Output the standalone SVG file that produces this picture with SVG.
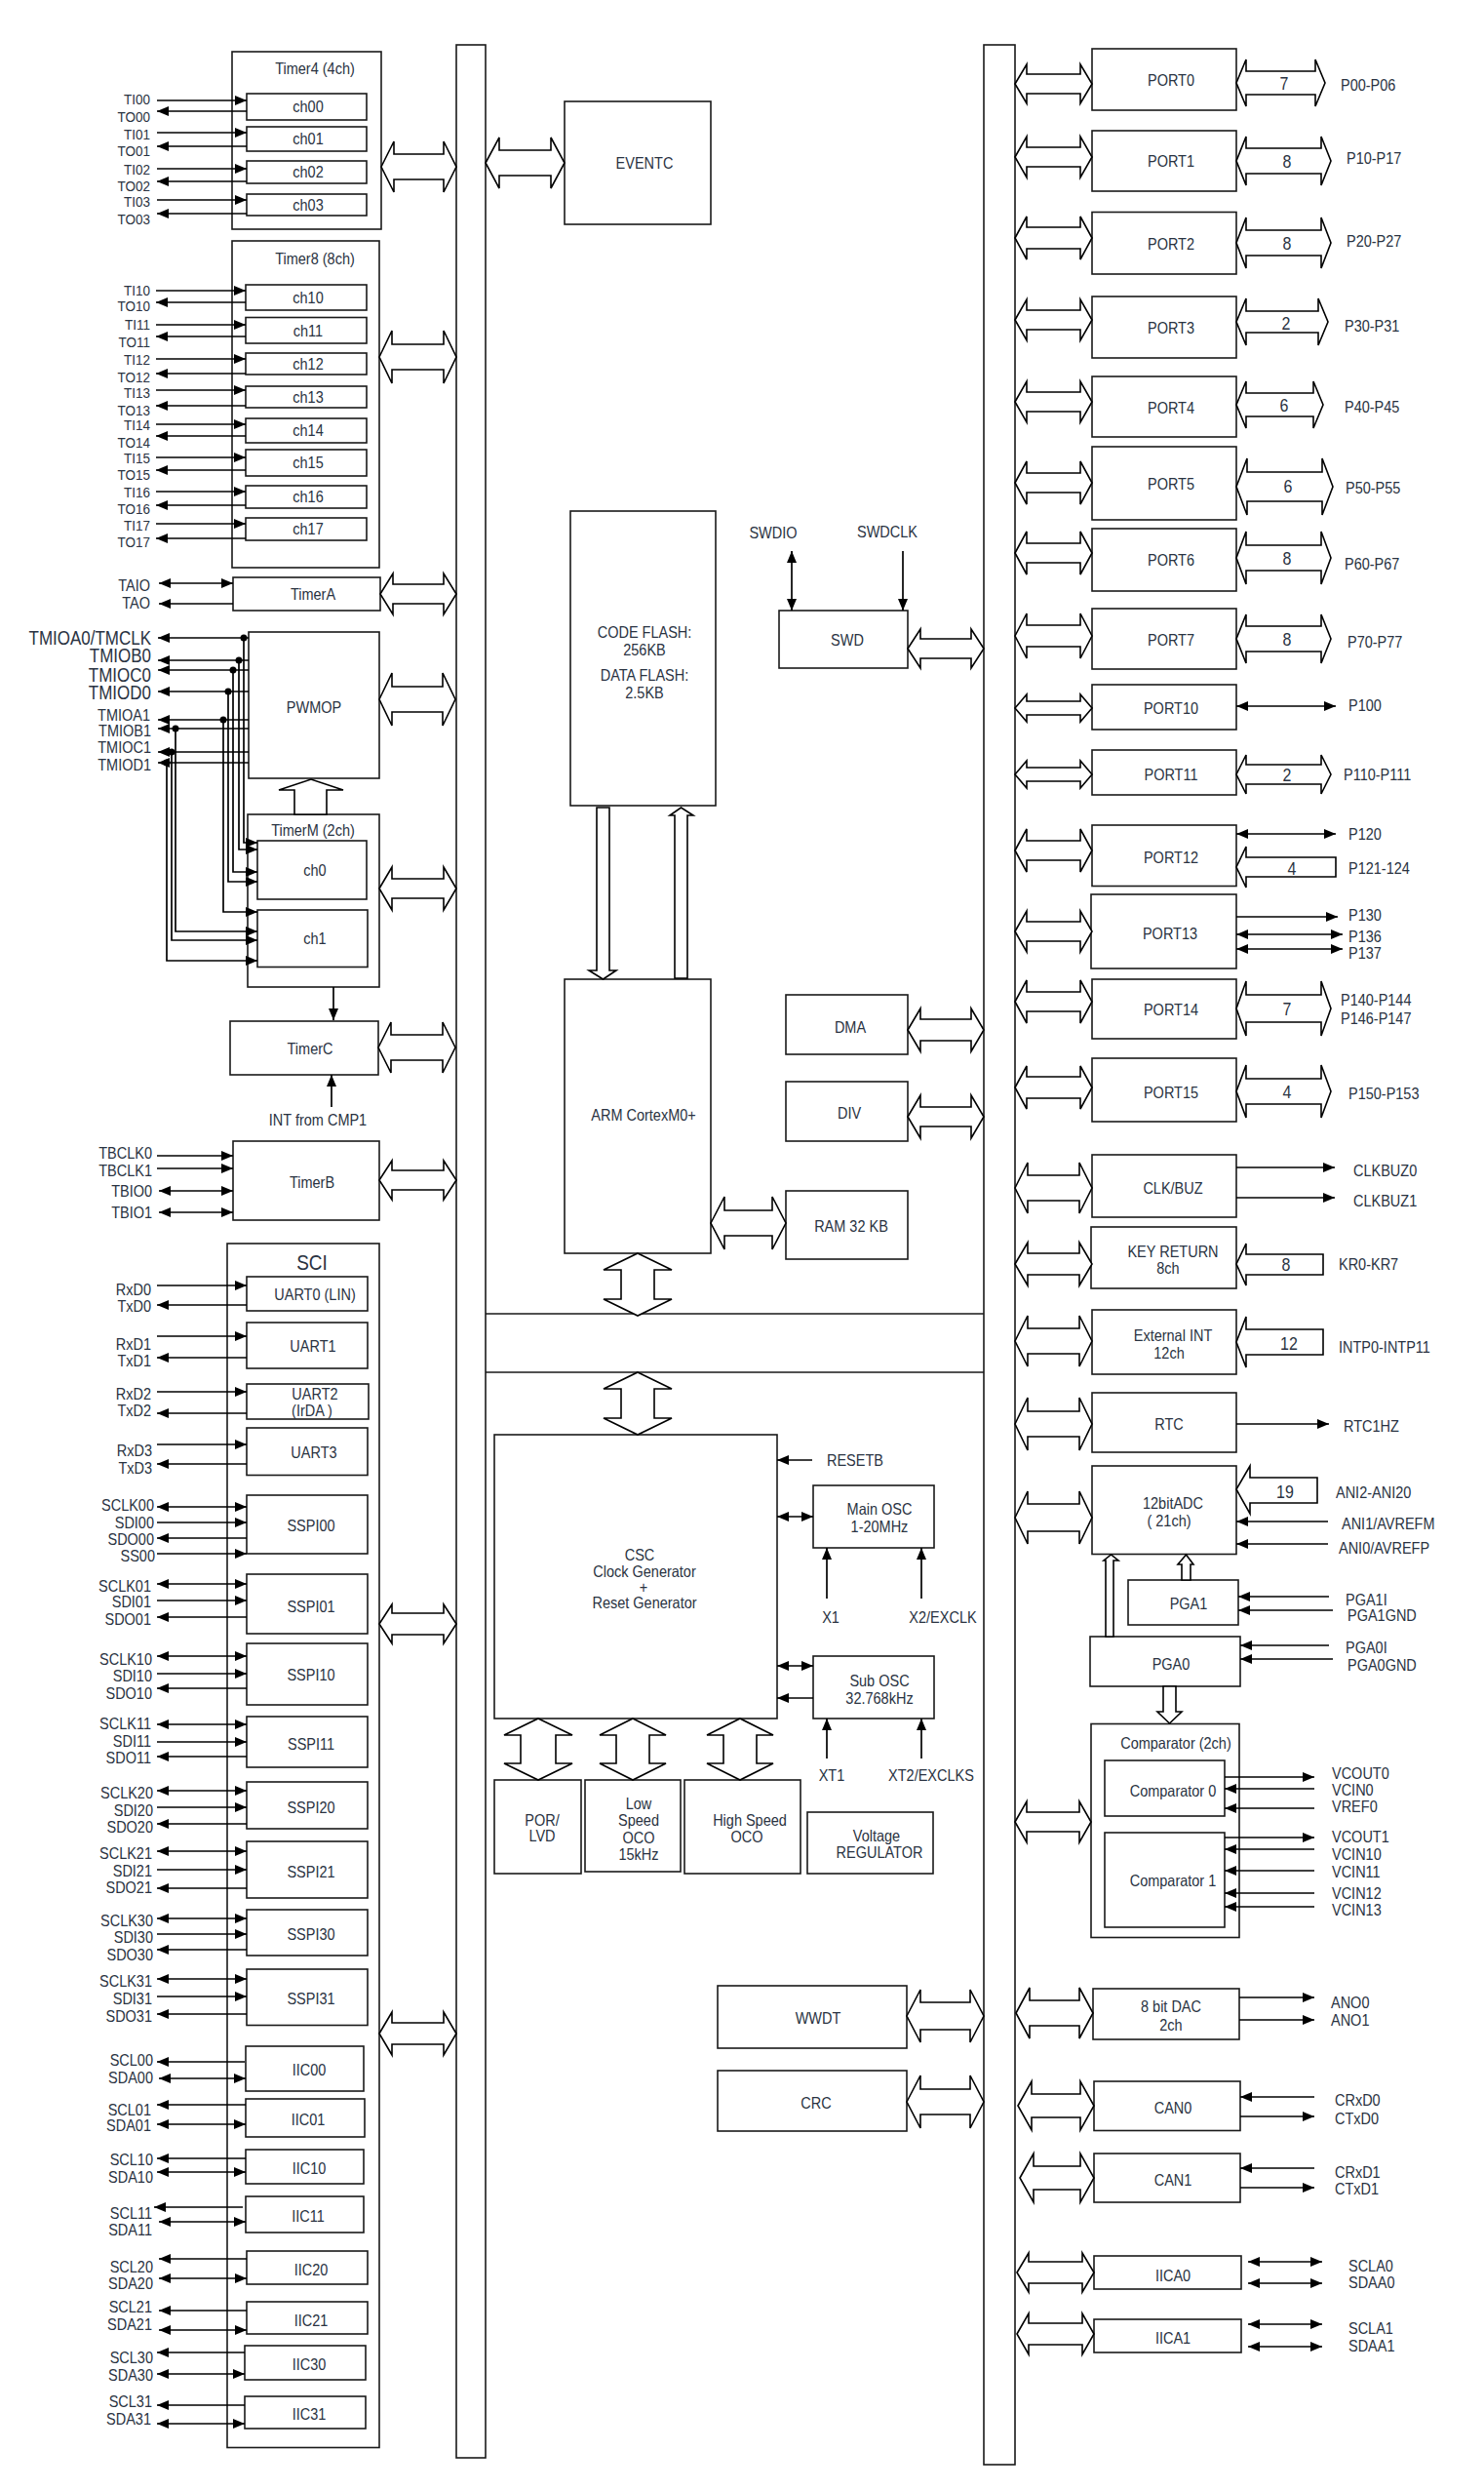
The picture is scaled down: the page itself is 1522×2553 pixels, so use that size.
<svg xmlns="http://www.w3.org/2000/svg" width="1522" height="2553" viewBox="0 0 1522 2553">
<defs>
<marker id="ah" viewBox="0 0 12 10" refX="12" refY="5" markerWidth="12" markerHeight="10" markerUnits="userSpaceOnUse" orient="auto-start-reverse"><path d="M0,0 L12,5 L0,10 z" fill="#000"/></marker>
<style>
rect{fill:#fff;stroke:#1a1a1a;stroke-width:1.6}
.ba{fill:#fff;stroke:#000;stroke-width:1.6;stroke-linejoin:miter}
.a{fill:none;stroke:#000;stroke-width:1.7;marker-end:url(#ah)}
.d{fill:none;stroke:#000;stroke-width:1.7;marker-end:url(#ah);marker-start:url(#ah)}
.ln{fill:none;stroke:#1a1a1a;stroke-width:1.6}
text{font-family:"Liberation Sans",Arial,sans-serif;font-size:14.5px;fill:#2a3342;dominant-baseline:central;transform-box:fill-box;transform-origin:center;transform:scaleY(1.15)}
.m{text-anchor:middle}
.e{text-anchor:end}
.s{font-size:13.5px}
.L{font-size:17px}
.n{font-size:16px}
</style>
</defs>
<rect fill="#fff" stroke="none" x="0" y="0" width="1522" height="2553" style="stroke:none"/>

<g id="buses">
<rect x="468" y="46" width="30" height="2474"/>
<rect x="1009" y="46" width="32" height="2481"/>
<path class="ln" d="M498,1347 H1009 M498,1407 H1009"/>
</g>

<g id="timer4"><rect x="238" y="53" width="153" height="182"/><text class="m" x="323" y="70">Timer4 (4ch)</text>
<rect x="253" y="96" width="123" height="27"/><text class="m" x="316" y="109.5">ch00</text>
<rect x="253" y="130" width="123" height="25"/><text class="m" x="316" y="142.5">ch01</text>
<rect x="253" y="165" width="123" height="23"/><text class="m" x="316" y="176.5">ch02</text>
<rect x="253" y="199" width="123" height="22"/><text class="m" x="316" y="210">ch03</text></g>

<g id="timer8"><rect x="238" y="247" width="151" height="335"/><text class="m" x="323" y="265">Timer8 (8ch)</text>
<rect x="252" y="292" width="124" height="26"/><text class="m" x="316" y="305">ch10</text>
<rect x="252" y="325.5" width="124" height="26.5"/><text class="m" x="316" y="339">ch11</text>
<rect x="252" y="362" width="124" height="22"/><text class="m" x="316" y="373">ch12</text>
<rect x="252" y="396" width="124" height="22"/><text class="m" x="316" y="407">ch13</text>
<rect x="252" y="429" width="124" height="25"/><text class="m" x="316" y="441.5">ch14</text>
<rect x="252" y="461" width="124" height="27"/><text class="m" x="316" y="474.5">ch15</text>
<rect x="252" y="498" width="124" height="23"/><text class="m" x="316" y="509.5">ch16</text>
<rect x="252" y="531" width="124" height="23"/><text class="m" x="316" y="542.5">ch17</text></g>

<g id="timerA"><rect x="239" y="592" width="151" height="34"/><text class="m" x="321" y="609">TimerA</text></g>
<g id="pwmop"><rect x="255" y="648" width="134" height="150"/><text class="m" x="322" y="725">PWMOP</text></g>
<g id="timerM"><rect x="254" y="835" width="135" height="177"/><text class="m" x="321" y="851">TimerM (2ch)</text>
<rect x="264" y="862" width="112" height="60"/><text class="m" x="323" y="892">ch0</text>
<rect x="264" y="933" width="113" height="58.5"/><text class="m" x="323" y="962">ch1</text></g>
<g id="timerC"><rect x="236" y="1047" width="152" height="55"/><text class="m" x="318" y="1075">TimerC</text></g>
<g id="timerB"><rect x="239" y="1170" width="150" height="81"/><text class="m" x="320" y="1212">TimerB</text></g>

<g id="sci"><rect x="233" y="1275" width="156" height="1234.5"/><text class="m" x="320" y="1294" style="font-size:19px">SCI</text>
<rect x="253" y="1309" width="124" height="35"/><text class="m" x="323" y="1327">UART0  (LIN)</text>
<rect x="253" y="1356" width="124" height="47"/><text class="m" x="321" y="1380">UART1</text>
<rect x="253" y="1419" width="125" height="36"/><text class="m" x="323" y="1429">UART2</text><text class="m" x="320" y="1446">(IrDA )</text>
<rect x="253" y="1464" width="124" height="48.5"/><text class="m" x="322" y="1489">UART3</text>
<rect x="253" y="1533" width="124" height="60"/><text class="m" x="319" y="1564">SSPI00</text>
<rect x="253" y="1614" width="124" height="61"/><text class="m" x="319" y="1647">SSPI01</text>
<rect x="253" y="1685" width="124" height="63"/><text class="m" x="319" y="1717">SSPI10</text>
<rect x="253" y="1760" width="124" height="52"/><text class="m" x="319" y="1788">SSPI11</text>
<rect x="253" y="1827" width="124" height="48"/><text class="m" x="319" y="1853">SSPI20</text>
<rect x="253" y="1888" width="124" height="58"/><text class="m" x="319" y="1919">SSPI21</text>
<rect x="253" y="1958" width="124" height="47"/><text class="m" x="319" y="1983">SSPI30</text>
<rect x="253" y="2019" width="124" height="57.5"/><text class="m" x="319" y="2049">SSPI31</text>
<rect x="252" y="2098" width="121" height="46"/><text class="m" x="317" y="2122">IIC00</text>
<rect x="252" y="2152" width="122" height="39"/><text class="m" x="316" y="2173">IIC01</text>
<rect x="252" y="2204" width="121" height="35"/><text class="m" x="317" y="2223">IIC10</text>
<rect x="252" y="2252" width="121" height="37"/><text class="m" x="316" y="2272">IIC11</text>
<rect x="253" y="2308" width="124" height="34"/><text class="m" x="319" y="2327">IIC20</text>
<rect x="253" y="2360" width="124" height="33"/><text class="m" x="319" y="2379">IIC21</text>
<rect x="251" y="2405" width="124" height="35"/><text class="m" x="317" y="2424">IIC30</text>
<rect x="251" y="2457" width="124" height="33"/><text class="m" x="317" y="2475">IIC31</text></g>

<g id="eventc"><rect x="579" y="104" width="150" height="126"/><text class="m" x="661" y="167">EVENTC</text></g>
<g id="flash"><rect x="585" y="524" width="149" height="302"/><text class="m" x="661" y="648">CODE FLASH:</text><text class="m" x="661" y="666">256KB</text><text class="m" x="661" y="692">DATA FLASH:</text><text class="m" x="661" y="710">2.5KB</text></g>
<g id="swd"><rect x="799" y="626" width="132" height="59"/><text class="m" x="869" y="656">SWD</text><text class="m" x="793" y="546">SWDIO</text><text class="m" x="910" y="545">SWDCLK</text></g>
<g id="cpu"><rect x="579" y="1004" width="150" height="281"/><text class="m" x="660" y="1143">ARM CortexM0+</text></g>
<g id="dma"><rect x="806" y="1020" width="125" height="61"/><text class="m" x="872" y="1053">DMA</text></g>
<g id="div"><rect x="806" y="1109" width="125" height="61"/><text class="m" x="871" y="1141">DIV</text></g>
<g id="ram"><rect x="806" y="1221" width="125" height="70"/><text class="m" x="873" y="1257">RAM  32 KB</text></g>
<g id="csc"><rect x="507" y="1471" width="290" height="291"/><text class="m" x="656" y="1594">CSC</text><text class="m" x="661" y="1611">Clock Generator</text><text class="m" x="660" y="1627">+</text><text class="m" x="661" y="1643">Reset Generator</text>
<text x="848" y="1497">RESETB</text></g>
<g id="mainosc"><rect x="834" y="1523" width="124" height="64"/><text class="m" x="902" y="1547">Main OSC</text><text class="m" x="902" y="1565">1-20MHz</text><text class="m" x="852" y="1658">X1</text><text class="m" x="967" y="1658">X2/EXCLK</text></g>
<g id="subosc"><rect x="834" y="1698" width="124" height="64"/><text class="m" x="902" y="1723">Sub OSC</text><text class="m" x="902" y="1741">32.768kHz</text><text class="m" x="853" y="1820">XT1</text><text class="m" x="955" y="1820">XT2/EXCLKS</text></g>
<g id="porlvd"><rect x="507" y="1825" width="89" height="96"/><text class="m" x="556" y="1866">POR/</text><text class="m" x="556" y="1882">LVD</text></g>
<g id="loco"><rect x="600" y="1825" width="98" height="94"/><text class="m" x="655" y="1849">Low</text><text class="m" x="655" y="1866">Speed</text><text class="m" x="655" y="1884">OCO</text><text class="m" x="655" y="1901">15kHz</text></g>
<g id="hoco"><rect x="702" y="1825" width="119" height="96"/><text class="m" x="769" y="1866">High Speed</text><text class="m" x="766" y="1883">OCO</text></g>
<g id="vreg"><rect x="828" y="1858" width="129" height="63"/><text class="m" x="899" y="1882">Voltage</text><text class="m" x="902" y="1899">REGULATOR</text></g>
<g id="wwdt"><rect x="736" y="2036" width="194" height="64"/><text class="m" x="839" y="2069">WWDT</text></g>
<g id="crc"><rect x="736" y="2123" width="194" height="62"/><text class="m" x="837" y="2156">CRC</text></g>

<g id="port0"><rect x="1120" y="50" width="148" height="63"/><text class="m" x="1201" y="82">PORT0</text></g>
<g id="port1"><rect x="1120" y="134" width="148" height="62"/><text class="m" x="1201" y="165">PORT1</text></g>
<g id="port2"><rect x="1120" y="217.5" width="148" height="63.5"/><text class="m" x="1201" y="250">PORT2</text></g>
<g id="port3"><rect x="1120" y="304" width="148" height="63"/><text class="m" x="1201" y="336">PORT3</text></g>
<g id="port4"><rect x="1120" y="386" width="148" height="62"/><text class="m" x="1201" y="418">PORT4</text></g>
<g id="port5"><rect x="1120" y="458" width="148" height="75"/><text class="m" x="1201" y="496">PORT5</text></g>
<g id="port6"><rect x="1120" y="542" width="148" height="64"/><text class="m" x="1201" y="574">PORT6</text></g>
<g id="port7"><rect x="1120" y="624" width="148" height="62"/><text class="m" x="1201" y="656">PORT7</text></g>
<g id="port10"><rect x="1120" y="702" width="148" height="46"/><text class="m" x="1201" y="726">PORT10</text></g>
<g id="port11"><rect x="1120" y="769" width="148" height="46"/><text class="m" x="1201" y="794">PORT11</text></g>
<g id="port12"><rect x="1120" y="846" width="148" height="62.5"/><text class="m" x="1201" y="879">PORT12</text></g>
<g id="port13"><rect x="1119" y="917" width="149" height="76"/><text class="m" x="1200" y="957">PORT13</text></g>
<g id="port14"><rect x="1120" y="1004" width="148" height="61"/><text class="m" x="1201" y="1035">PORT14</text></g>
<g id="port15"><rect x="1120" y="1085" width="148" height="65"/><text class="m" x="1201" y="1120">PORT15</text></g>
<g id="clkbuz"><rect x="1120" y="1184" width="148" height="64"/><text class="m" x="1203" y="1218">CLK/BUZ</text></g>
<g id="keyret"><rect x="1119" y="1258" width="149" height="63"/><text class="m" x="1203" y="1283">KEY RETURN</text><text class="m" x="1198" y="1300">8ch</text></g>
<g id="extint"><rect x="1120" y="1343" width="148" height="66"/><text class="m" x="1203" y="1369">External INT</text><text class="m" x="1199" y="1387">12ch</text></g>
<g id="rtc"><rect x="1120" y="1428" width="148" height="61"/><text class="m" x="1199" y="1460">RTC</text></g>
<g id="adc"><rect x="1120" y="1503" width="148" height="90.5"/><text class="m" x="1203" y="1541">12bitADC</text><text class="m" x="1199" y="1559">( 21ch)</text></g>
<g id="pga1"><rect x="1157" y="1620" width="113" height="46"/><text class="m" x="1219" y="1644">PGA1</text></g>
<g id="pga0"><rect x="1118" y="1678" width="154" height="51"/><text class="m" x="1201" y="1706">PGA0</text></g>
<g id="comparator"><rect x="1119" y="1767.5" width="152" height="219"/><text class="m" x="1206" y="1787">Comparator (2ch)</text>
<rect x="1133" y="1805" width="123" height="57"/><text class="m" x="1203" y="1836">Comparator 0</text>
<rect x="1133" y="1879" width="123" height="97"/><text class="m" x="1203" y="1928">Comparator 1</text></g>
<g id="dac"><rect x="1121" y="2039" width="150" height="52"/><text class="m" x="1201" y="2057">8 bit DAC</text><text class="m" x="1201" y="2076">2ch</text></g>
<g id="can0"><rect x="1122" y="2134" width="150" height="50.5"/><text class="m" x="1203" y="2161">CAN0</text></g>
<g id="can1"><rect x="1122" y="2208" width="150" height="50"/><text class="m" x="1203" y="2235">CAN1</text></g>
<g id="iica0"><rect x="1122" y="2313" width="151" height="34"/><text class="m" x="1203" y="2333">IICA0</text></g>
<g id="iica1"><rect x="1122" y="2378" width="151" height="34"/><text class="m" x="1203" y="2397">IICA1</text></g>

<g id="connectors">
<polygon class="ba" points="391,171 404,145 404,158 455,158 455,145 468,171 455,197 455,184 404,184 404,197"/>
<polygon class="ba" points="389,366 402,339 402,353 455,353 455,339 468,366 455,393 455,379 402,379 402,393"/>
<polygon class="ba" points="390,609 403,588 403,599 455,599 455,588 468,609 455,630 455,619 403,619 403,630"/>
<polygon class="ba" points="389,717 402,690 402,704 454,704 454,690 467,717 454,744 454,730 402,730 402,744"/>
<polygon class="ba" points="389,911 402,889 402,901 455,901 455,889 468,911 455,933 455,921 402,921 402,933"/>
<polygon class="ba" points="388,1074 401,1048 401,1061 454,1061 454,1048 467,1074 454,1100 454,1087 401,1087 401,1100"/>
<polygon class="ba" points="389,1210 402,1190 402,1200 455,1200 455,1190 468,1210 455,1230 455,1220 402,1220 402,1230"/>
<polygon class="ba" points="389,1665 402,1645 402,1654 455,1654 455,1645 468,1665 455,1685 455,1676 402,1676 402,1685"/>
<polygon class="ba" points="389,2085 402,2063 402,2074 455,2074 455,2063 468,2085 455,2107 455,2096 402,2096 402,2107"/>
<polygon class="ba" points="498,167 512,141 512,154 565,154 565,141 579,167 565,193 565,180 512,180 512,193"/>
<polygon class="ba" points="931,665 944,645 944,655 996,655 996,645 1009,665 996,685 996,675 944,675 944,685"/>
<polygon class="ba" points="931,1056 944,1034 944,1045 996,1045 996,1034 1009,1056 996,1078 996,1067 944,1067 944,1078"/>
<polygon class="ba" points="931,1145 944,1123 944,1135 996,1135 996,1123 1009,1145 996,1167 996,1155 944,1155 944,1167"/>
<polygon class="ba" points="729,1254 743,1227 743,1241 792,1241 792,1227 806,1254 792,1281 792,1267 743,1267 743,1281"/>
<polygon class="ba" points="930,2067 944,2040 944,2053 995,2053 995,2040 1009,2067 995,2094 995,2081 944,2081 944,2094"/>
<polygon class="ba" points="930,2155 944,2128 944,2142 995,2142 995,2128 1009,2155 995,2182 995,2168 944,2168 944,2182"/>
<polygon class="ba" points="654,1285 689,1302 671,1302 671,1332 689,1332 654,1349 619,1332 637,1332 637,1302 619,1302"/>
<polygon class="ba" points="654,1407 689,1424 671,1424 671,1454 689,1454 654,1471 619,1454 637,1454 637,1424 619,1424"/>
<polygon class="ba" points="552,1762 587,1779 570,1779 570,1808 587,1808 552,1825 517,1808 534,1808 534,1779 517,1779"/>
<polygon class="ba" points="649,1762 683,1779 666,1779 666,1808 683,1808 649,1825 615,1808 632,1808 632,1779 615,1779"/>
<polygon class="ba" points="759,1762 793,1779 776,1779 776,1808 793,1808 759,1825 725,1808 742,1808 742,1779 725,1779"/>
<polygon class="ba" points="612,828 625,828 625,995 632,995 618.5,1004 604,995 612,995"/>
<polygon class="ba" points="692,1003 705,1003 705,836 711,836 698.5,828 687,836 692,836"/>
<polygon class="ba" points="302,835 335,835 335,810 352,810 319,799 286,810 302,810"/>
<polygon class="ba" points="1041,86 1053,66 1053,76 1108,76 1108,66 1120,86 1108,106 1108,96 1053,96 1053,106"/>
<polygon class="ba" points="1041,161 1053,140 1053,151 1108,151 1108,140 1120,161 1108,182 1108,171 1053,171 1053,182"/>
<polygon class="ba" points="1041,244 1053,222 1053,233 1108,233 1108,222 1120,244 1108,266 1108,255 1053,255 1053,266"/>
<polygon class="ba" points="1041,328 1053,307 1053,318 1108,318 1108,307 1120,328 1108,349 1108,338 1053,338 1053,349"/>
<polygon class="ba" points="1041,412 1053,391 1053,402 1108,402 1108,391 1120,412 1108,433 1108,422 1053,422 1053,433"/>
<polygon class="ba" points="1041,495 1053,473 1053,485 1108,485 1108,473 1120,495 1108,517 1108,505 1053,505 1053,517"/>
<polygon class="ba" points="1041,567 1053,545 1053,557 1108,557 1108,545 1120,567 1108,589 1108,577 1053,577 1053,589"/>
<polygon class="ba" points="1041,652 1053,629 1053,641 1108,641 1108,629 1120,652 1108,675 1108,663 1053,663 1053,675"/>
<polygon class="ba" points="1041,726 1053,712 1053,719 1108,719 1108,712 1120,726 1108,740 1108,733 1053,733 1053,740"/>
<polygon class="ba" points="1041,794 1053,780 1053,787 1108,787 1108,780 1120,794 1108,808 1108,801 1053,801 1053,808"/>
<polygon class="ba" points="1041,872 1053,850 1053,862 1108,862 1108,850 1120,872 1108,894 1108,882 1053,882 1053,894"/>
<polygon class="ba" points="1041,955 1053,934 1053,945 1108,945 1108,934 1120,955 1108,976 1108,965 1053,965 1053,976"/>
<polygon class="ba" points="1041,1027 1053,1005 1053,1017 1108,1017 1108,1005 1120,1027 1108,1049 1108,1037 1053,1037 1053,1049"/>
<polygon class="ba" points="1041,1115 1053,1093 1053,1104 1108,1104 1108,1093 1120,1115 1108,1137 1108,1126 1053,1126 1053,1137"/>
<polygon class="ba" points="1041,1218 1054,1192 1054,1205 1107,1205 1107,1192 1120,1218 1107,1244 1107,1231 1054,1231 1054,1244"/>
<polygon class="ba" points="1041,1296 1054,1274 1054,1285 1107,1285 1107,1274 1120,1296 1107,1318 1107,1307 1054,1307 1054,1318"/>
<polygon class="ba" points="1041,1375 1054,1349 1054,1362 1107,1362 1107,1349 1120,1375 1107,1401 1107,1388 1054,1388 1054,1401"/>
<polygon class="ba" points="1041,1460 1054,1433 1054,1447 1107,1447 1107,1433 1120,1460 1107,1487 1107,1473 1054,1473 1054,1487"/>
<polygon class="ba" points="1041,1556 1054,1529 1054,1542 1107,1542 1107,1529 1120,1556 1107,1583 1107,1570 1054,1570 1054,1583"/>
<polygon class="ba" points="1041,1868 1053,1847 1053,1858 1107,1858 1107,1847 1119,1868 1107,1889 1107,1878 1053,1878 1053,1889"/>
<polygon class="ba" points="1042,2064 1056,2038 1056,2051 1107,2051 1107,2038 1121,2064 1107,2090 1107,2077 1056,2077 1056,2090"/>
<polygon class="ba" points="1044,2159 1058,2134 1058,2147 1108,2147 1108,2134 1122,2159 1108,2184 1108,2171 1058,2171 1058,2184"/>
<polygon class="ba" points="1046,2233 1060,2208 1060,2221 1108,2221 1108,2208 1122,2233 1108,2258 1108,2245 1060,2245 1060,2258"/>
<polygon class="ba" points="1043,2330 1055,2310 1055,2319 1110,2319 1110,2310 1122,2330 1110,2350 1110,2341 1055,2341 1055,2350"/>
<polygon class="ba" points="1043,2393 1055,2372 1055,2382 1110,2382 1110,2372 1122,2393 1110,2414 1110,2404 1055,2404 1055,2414"/>
<polygon class="ba" points="1268,85 1278,61 1278,73 1349,73 1349,61 1359,85 1349,109 1349,97 1278,97 1278,109"/>
<polygon class="ba" points="1268,165 1278,140 1278,152 1355,152 1355,140 1365,165 1355,190 1355,178 1278,178 1278,190"/>
<polygon class="ba" points="1268,249 1278,223 1278,236 1355,236 1355,223 1365,249 1355,275 1355,262 1278,262 1278,275"/>
<polygon class="ba" points="1268,330 1278,306 1278,319 1352,319 1352,306 1362,330 1352,354 1352,341 1278,341 1278,354"/>
<polygon class="ba" points="1268,415 1278,391 1278,403 1347,403 1347,391 1357,415 1347,439 1347,427 1278,427 1278,439"/>
<polygon class="ba" points="1268,499 1279,470 1279,484 1356,484 1356,470 1367,499 1356,528 1356,514 1279,514 1279,528"/>
<polygon class="ba" points="1268,572 1278,545 1278,559 1355,559 1355,545 1365,572 1355,599 1355,585 1278,585 1278,599"/>
<polygon class="ba" points="1268,655 1278,630 1278,642 1355,642 1355,630 1365,655 1355,680 1355,668 1278,668 1278,680"/>
<polygon class="ba" points="1268,794 1278,774 1278,784 1355,784 1355,774 1365,794 1355,814 1355,804 1278,804 1278,814"/>
<polygon class="ba" points="1268,1034 1278,1006 1278,1020 1355,1020 1355,1006 1365,1034 1355,1062 1355,1048 1278,1048 1278,1062"/>
<polygon class="ba" points="1268,1119 1278,1092 1278,1106 1355,1106 1355,1092 1365,1119 1355,1146 1355,1132 1278,1132 1278,1146"/>
<polygon class="ba" points="1268,889 1278,868 1278,879 1370,879 1370,899 1278,899 1278,910"/>
<polygon class="ba" points="1268,1296 1278,1275 1278,1286 1357,1286 1357,1307 1278,1307 1278,1318"/>
<polygon class="ba" points="1268,1376 1278,1350 1278,1363 1357,1363 1357,1389 1278,1389 1278,1402"/>
<polygon class="ba" points="1268,1527 1282,1503 1282,1515 1351,1515 1351,1541 1282,1541 1282,1552"/>
<polygon class="ba" points="1134,1678 1142,1678 1142,1600 1147,1600 1139.5,1594 1132,1600 1134,1600"/>
<polygon class="ba" points="1212,1620 1221,1620 1221,1604 1224,1604 1216.5,1594 1208,1604 1212,1604"/>
<polygon class="ba" points="1193,1729 1206,1729 1206,1755 1212,1755 1199.5,1767 1187,1755 1193,1755"/>

<path class="a" d="M161,103 H253"/><path class="a" d="M253,114 H161"/>
<path class="a" d="M161,136 H253"/><path class="a" d="M253,150 H161"/>
<path class="a" d="M161,173 H253"/><path class="a" d="M253,186 H161"/>
<path class="a" d="M161,205 H253"/><path class="a" d="M253,219 H161"/>
<path class="a" d="M160,298 H252"/><path class="a" d="M252,310 H160"/>
<path class="a" d="M160,333 H252"/><path class="a" d="M252,345 H160"/>
<path class="a" d="M160,368 H252"/><path class="a" d="M252,383 H160"/>
<path class="a" d="M160,400 H252"/><path class="a" d="M252,416 H160"/>
<path class="a" d="M160,435 H252"/><path class="a" d="M252,447 H160"/>
<path class="a" d="M160,469 H252"/><path class="a" d="M252,482 H160"/>
<path class="a" d="M160,504 H252"/><path class="a" d="M252,518 H160"/>
<path class="a" d="M160,537 H252"/><path class="a" d="M252,552 H160"/>
<path class="d" d="M163,598 H239"/><path class="a" d="M239,619 H163"/>
<path class="a" d="M255,654 H162"/><path class="a" d="M255,677 H162"/><path class="a" d="M255,687 H162"/><path class="a" d="M255,709 H162"/>
<path class="a" d="M255,738 H162"/><path class="a" d="M255,747 H162"/><path class="a" d="M255,771 H162"/><path class="a" d="M255,782 H162"/>
<path class="a" d="M250,654 V864 H264"/><path class="a" d="M245,677 V871 H264"/><path class="a" d="M239,687 V894 H264"/><path class="a" d="M234,709 V904 H264"/>
<path class="a" d="M229,738 V935 H264"/><path class="a" d="M180,747 V955 H264"/><path class="a" d="M176,771 V964 H264"/><path class="a" d="M171,782 V985 H264"/>
<g fill="#000"><circle cx="250" cy="654" r="3.5"/><circle cx="245" cy="677" r="3.5"/><circle cx="239" cy="687" r="3.5"/><circle cx="234" cy="709" r="3.5"/><circle cx="229" cy="738" r="3.5"/><circle cx="180" cy="747" r="3.5"/><circle cx="176" cy="771" r="3.5"/><circle cx="171" cy="782" r="3.5"/></g>
<path class="a" d="M342,1012 V1046"/>
<path class="a" d="M340,1135 V1102"/>
<path class="a" d="M161,1185 H239"/><path class="a" d="M161,1198 H239"/><path class="d" d="M163,1221 H239"/><path class="d" d="M163,1243 H239"/>
<path class="a" d="M161,1318 H253"/><path class="a" d="M253,1338 H161"/>
<path class="a" d="M161,1370 H253"/><path class="a" d="M253,1392 H161"/>
<path class="a" d="M161,1427 H253"/><path class="a" d="M253,1449 H161"/>
<path class="a" d="M161,1481 H253"/><path class="a" d="M253,1501 H161"/>
<path class="d" d="M161,1545 H253"/><path class="a" d="M161,1561 H253"/><path class="a" d="M253,1577 H161"/><path class="a" d="M161,1593 H253"/>
<path class="d" d="M161,1624 H253"/><path class="a" d="M161,1641 H253"/><path class="a" d="M253,1658 H161"/>
<path class="d" d="M161,1698 H253"/><path class="a" d="M161,1716 H253"/><path class="a" d="M253,1731 H161"/>
<path class="d" d="M161,1768 H253"/><path class="a" d="M161,1786 H253"/><path class="a" d="M253,1801 H161"/>
<path class="d" d="M161,1836 H253"/><path class="a" d="M161,1853 H253"/><path class="a" d="M253,1870 H161"/>
<path class="d" d="M161,1898 H253"/><path class="a" d="M161,1917 H253"/><path class="a" d="M253,1936 H161"/>
<path class="d" d="M161,1967 H253"/><path class="a" d="M161,1983 H253"/><path class="a" d="M253,1999 H161"/>
<path class="d" d="M161,2029 H253"/><path class="a" d="M161,2047 H253"/><path class="a" d="M253,2065 H161"/>
<path class="a" d="M251,2114 H161"/><path class="d" d="M163,2131 H252"/>
<path class="a" d="M252,2158 H161"/><path class="d" d="M161,2178 H252"/>
<path class="a" d="M252,2213 H161"/><path class="d" d="M161,2227 H252"/>
<path class="a" d="M249,2263 H158"/><path class="d" d="M163,2278 H252"/>
<path class="a" d="M253,2316 H163"/><path class="d" d="M163,2336 H253"/>
<path class="a" d="M253,2369 H163"/><path class="d" d="M163,2389 H253"/>
<path class="a" d="M251,2412 H161"/><path class="d" d="M161,2434 H251"/>
<path class="a" d="M251,2466 H161"/><path class="d" d="M161,2485 H251"/>
<path class="d" d="M812,565 V626"/><path class="a" d="M926,565 V626"/>
<path class="a" d="M833,1497 H797"/>
<path class="d" d="M797,1555 H834"/>
<path class="a" d="M848,1639 V1587"/><path class="a" d="M945,1639 V1587"/>
<path class="d" d="M797,1708 H834"/><path class="a" d="M834,1741 H797"/>
<path class="a" d="M848,1803 V1762"/><path class="a" d="M945,1803 V1762"/>
<path class="d" d="M1268,724 H1370"/>
<path class="d" d="M1268,855 H1370"/>
<path class="a" d="M1268,940 H1372"/><path class="d" d="M1268,958 H1377"/><path class="d" d="M1268,973 H1377"/>
<path class="a" d="M1268,1197 H1369"/><path class="a" d="M1268,1228 H1369"/>
<path class="a" d="M1268,1460 H1363"/>
<path class="a" d="M1362,1560 H1268"/><path class="a" d="M1362,1583 H1268"/>
<path class="a" d="M1363,1637 H1270"/><path class="a" d="M1367,1651 H1270"/>
<path class="a" d="M1363,1687 H1272"/><path class="a" d="M1367,1701 H1272"/>
<path class="a" d="M1256,1822 H1348"/><path class="a" d="M1348,1834 H1256"/><path class="a" d="M1348,1854 H1256"/>
<path class="a" d="M1256,1884 H1348"/><path class="a" d="M1348,1896 H1256"/><path class="a" d="M1348,1918 H1256"/><path class="a" d="M1348,1941 H1256"/><path class="a" d="M1348,1955 H1256"/>
<path class="a" d="M1271,2048 H1348"/><path class="a" d="M1271,2071 H1348"/>
<path class="a" d="M1348,2150 H1272"/><path class="a" d="M1272,2170 H1348"/>
<path class="a" d="M1348,2223 H1272"/><path class="a" d="M1272,2243 H1348"/>
<path class="d" d="M1280,2319 H1356"/><path class="d" d="M1280,2341 H1356"/>
<path class="d" d="M1280,2383 H1356"/><path class="d" d="M1280,2406 H1356"/>
</g>

<g id="pin-labels">
<text class="e s" x="154" y="102">TI00</text><text class="e s" x="154" y="120">TO00</text>
<text class="e s" x="154" y="138">TI01</text><text class="e s" x="154" y="155">TO01</text>
<text class="e s" x="154" y="174">TI02</text><text class="e s" x="154" y="191">TO02</text>
<text class="e s" x="154" y="207">TI03</text><text class="e s" x="154" y="225">TO03</text>
<text class="e s" x="154" y="298">TI10</text><text class="e s" x="154" y="314">TO10</text>
<text class="e s" x="154" y="333">TI11</text><text class="e s" x="154" y="351">TO11</text>
<text class="e s" x="154" y="369">TI12</text><text class="e s" x="154" y="387">TO12</text>
<text class="e s" x="154" y="403">TI13</text><text class="e s" x="154" y="421">TO13</text>
<text class="e s" x="154" y="436">TI14</text><text class="e s" x="154" y="454">TO14</text>
<text class="e s" x="154" y="470">TI15</text><text class="e s" x="154" y="487">TO15</text>
<text class="e s" x="154" y="505">TI16</text><text class="e s" x="154" y="522">TO16</text>
<text class="e s" x="154" y="539">TI17</text><text class="e s" x="154" y="556">TO17</text>
<text class="e" x="154" y="600">TAIO</text><text class="e" x="154" y="618">TAO</text>
<text class="e L" x="155" y="654">TMIOA0/TMCLK</text>
<text class="e L" x="155" y="672">TMIOB0</text>
<text class="e L" x="155" y="692">TMIOC0</text>
<text class="e L" x="155" y="710">TMIOD0</text>
<text class="e" x="154" y="733">TMIOA1</text>
<text class="e" x="155" y="749">TMIOB1</text>
<text class="e" x="155" y="766">TMIOC1</text>
<text class="e" x="155" y="784">TMIOD1</text>
<text class="m" x="326" y="1148">INT from CMP1</text>
<text class="e" x="156" y="1182">TBCLK0</text><text class="e" x="156" y="1200">TBCLK1</text><text class="e" x="156" y="1221">TBIO0</text><text class="e" x="156" y="1243">TBIO1</text>
<text class="e" x="155" y="1322">RxD0</text><text class="e" x="155" y="1339">TxD0</text>
<text class="e" x="155" y="1378">RxD1</text><text class="e" x="155" y="1395">TxD1</text>
<text class="e" x="155" y="1429">RxD2</text><text class="e" x="155" y="1446">TxD2</text>
<text class="e" x="156" y="1487">RxD3</text><text class="e" x="156" y="1505">TxD3</text>
<text class="e" x="158" y="1543">SCLK00</text><text class="e" x="158" y="1561">SDI00</text><text class="e" x="158" y="1578">SDO00</text><text class="e" x="159" y="1595">SS00</text>
<text class="e" x="155" y="1626">SCLK01</text><text class="e" x="155" y="1642">SDI01</text><text class="e" x="155" y="1660">SDO01</text>
<text class="e" x="156" y="1701">SCLK10</text><text class="e" x="156" y="1718">SDI10</text><text class="e" x="156" y="1736">SDO10</text>
<text class="e" x="155" y="1767">SCLK11</text><text class="e" x="155" y="1785">SDI11</text><text class="e" x="155" y="1802">SDO11</text>
<text class="e" x="157" y="1838">SCLK20</text><text class="e" x="157" y="1856">SDI20</text><text class="e" x="157" y="1873">SDO20</text>
<text class="e" x="156" y="1900">SCLK21</text><text class="e" x="156" y="1918">SDI21</text><text class="e" x="156" y="1935">SDO21</text>
<text class="e" x="157" y="1969">SCLK30</text><text class="e" x="157" y="1986">SDI30</text><text class="e" x="157" y="2004">SDO30</text>
<text class="e" x="156" y="2031">SCLK31</text><text class="e" x="156" y="2049">SDI31</text><text class="e" x="156" y="2067">SDO31</text>
<text class="e" x="157" y="2112">SCL00</text><text class="e" x="157" y="2130">SDA00</text>
<text class="e" x="155" y="2163">SCL01</text><text class="e" x="155" y="2179">SDA01</text>
<text class="e" x="157" y="2214">SCL10</text><text class="e" x="157" y="2232">SDA10</text>
<text class="e" x="156" y="2269">SCL11</text><text class="e" x="156" y="2286">SDA11</text>
<text class="e" x="157" y="2324">SCL20</text><text class="e" x="157" y="2341">SDA20</text>
<text class="e" x="156" y="2365">SCL21</text><text class="e" x="156" y="2383">SDA21</text>
<text class="e" x="157" y="2417">SCL30</text><text class="e" x="157" y="2435">SDA30</text>
<text class="e" x="156" y="2462">SCL31</text><text class="e" x="155" y="2480">SDA31</text>

<text class="m n" x="1317" y="86">7</text><text class="m n" x="1320" y="166">8</text><text class="m n" x="1320" y="250">8</text><text class="m n" x="1319" y="332">2</text>
<text class="m n" x="1317" y="416">6</text><text class="m n" x="1321" y="499">6</text><text class="m n" x="1320" y="573">8</text><text class="m n" x="1320" y="656">8</text>
<text class="m n" x="1320" y="795">2</text><text class="m n" x="1325" y="891">4</text><text class="m n" x="1320" y="1035">7</text><text class="m n" x="1320" y="1120">4</text>
<text class="m n" x="1319" y="1297">8</text><text class="m n" x="1322" y="1378">12</text><text class="m n" x="1318" y="1530">19</text>
<text x="1375" y="87">P00-P06</text><text x="1381" y="162">P10-P17</text><text x="1381" y="247">P20-P27</text><text x="1379" y="334">P30-P31</text>
<text x="1379" y="417">P40-P45</text><text x="1380" y="500">P50-P55</text><text x="1379" y="578">P60-P67</text><text x="1382" y="658">P70-P77</text>
<text x="1383" y="723">P100</text><text x="1378" y="794">P110-P111</text><text x="1383" y="855">P120</text><text x="1383" y="890">P121-124</text>
<text x="1383" y="938">P130</text><text x="1383" y="960">P136</text><text x="1383" y="977">P137</text>
<text x="1375" y="1025">P140-P144</text><text x="1375" y="1044">P146-P147</text><text x="1383" y="1121">P150-P153</text>
<text x="1388" y="1200">CLKBUZ0</text><text x="1388" y="1231">CLKBUZ1</text>
<text x="1373" y="1296">KR0-KR7</text><text x="1373" y="1381">INTP0-INTP11</text><text x="1378" y="1462">RTC1HZ</text>
<text x="1370" y="1530">ANI2-ANI20</text><text x="1376" y="1562">ANI1/AVREFM</text><text x="1373" y="1587">ANI0/AVREFP</text>
<text x="1380" y="1640">PGA1I</text><text x="1382" y="1656">PGA1GND</text><text x="1380" y="1689">PGA0I</text><text x="1382" y="1707">PGA0GND</text>
<text x="1366" y="1818">VCOUT0</text><text x="1366" y="1835">VCIN0</text><text x="1366" y="1852">VREF0</text>
<text x="1366" y="1883">VCOUT1</text><text x="1366" y="1901">VCIN10</text><text x="1366" y="1919">VCIN11</text><text x="1366" y="1941">VCIN12</text><text x="1366" y="1958">VCIN13</text>
<text x="1365" y="2053">ANO0</text><text x="1365" y="2071">ANO1</text>
<text x="1369" y="2153">CRxD0</text><text x="1369" y="2172">CTxD0</text><text x="1369" y="2227">CRxD1</text><text x="1369" y="2244">CTxD1</text>
<text x="1383" y="2323">SCLA0</text><text x="1383" y="2340">SDAA0</text><text x="1383" y="2387">SCLA1</text><text x="1383" y="2405">SDAA1</text>
</g>
</svg>
